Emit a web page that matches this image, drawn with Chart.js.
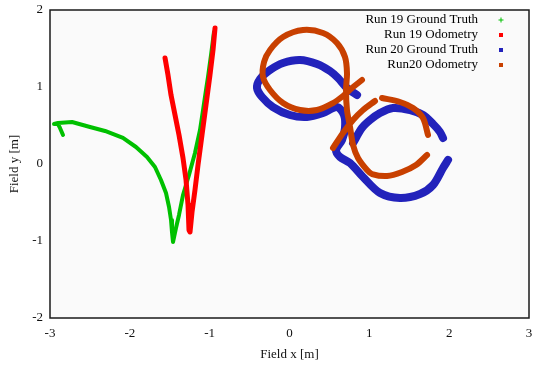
<!DOCTYPE html>
<html>
<head>
<meta charset="utf-8">
<script src="https://cdn.jsdelivr.net/npm/chart.js@4.4.1/dist/chart.umd.min.js"></script>
<style>
  html, body { margin: 0; padding: 0; background: #fff; }
  canvas { display: block; }
</style>
</head>
<body>
<canvas id="fieldPlot" width="538" height="369"></canvas>
<script>
// Paths (metres). null = gap in the trace.
const run19TruthX = [-2.837, -2.875, -2.900, -2.950, -2.900, -2.724, -2.499, -2.311, -2.086, -1.923, -1.785, -1.685, -1.610, -1.547, -1.509, -1.484, -1.472, -1.459, -1.422, -1.384, -1.334, -1.259, -1.184, -1.121, -1.083, -1.046, -1.021, -0.983, -0.946];
const run19TruthY = [0.377, 0.468, 0.519, 0.519, 0.532, 0.545, 0.481, 0.429, 0.338, 0.221, 0.091, -0.039, -0.208, -0.377, -0.558, -0.727, -0.883, -1.013, -0.831, -0.662, -0.403, -0.143, 0.143, 0.442, 0.701, 0.961, 1.130, 1.416, 1.714];

const run19OdomX = [-1.559, -1.522, -1.484, -1.434, -1.384, -1.334, -1.296, -1.271, -1.259, -1.246, -1.221, -1.184, -1.146, -1.096, -1.046, -0.996, -0.958, -0.933];
const run19OdomY = [1.377, 1.156, 0.896, 0.636, 0.377, 0.078, -0.208, -0.532, -0.857, -0.883, -0.623, -0.338, -0.013, 0.377, 0.766, 1.156, 1.481, 1.766];

const run20TruthX = [0.846, 0.720, 0.608, 0.507, 0.345, 0.132, -0.081, -0.244, -0.369, -0.407, -0.344, -0.207, 0.006, 0.219, 0.420, 0.595, 0.683, 0.695, 0.658, 0.583, 0.633, 0.758, 0.921, 1.134, 1.384, 1.635, 1.798, 1.923, 1.986,
  null,
  1.923, 1.885, 1.798, 1.672, 1.510, 1.297, 1.134, 1.009, 0.908, 0.796];
const run20TruthY = [0.896, 0.987, 1.117, 1.208, 1.299, 1.351, 1.312, 1.221, 1.104, 0.987, 0.870, 0.740, 0.636, 0.610, 0.662, 0.740, 0.636, 0.468, 0.312, 0.182, 0.091, 0.013, -0.169, -0.377, -0.442, -0.390, -0.273, -0.052, 0.052,
  null,
  0.338, 0.416, 0.519, 0.636, 0.701, 0.727, 0.662, 0.571, 0.468, 0.273];

const run20OdomX = [0.908, 0.783, 0.670, 0.545, 0.345, 0.132, -0.081, -0.244, -0.332, -0.319, -0.244, -0.081, 0.169, 0.420, 0.595, 0.695, 0.720, 0.708, 0.720, 0.758, 0.796, 0.858, 0.971, 1.034, 1.222, 1.409, 1.585, 1.723,
  null,
  0.545, 0.670, 0.796, 0.921, 1.071,
  null,
  1.159, 1.384, 1.547, 1.672, 1.735];
const run20OdomY = [1.091, 0.987, 0.883, 0.792, 0.701, 0.701, 0.792, 0.961, 1.130, 1.325, 1.481, 1.649, 1.740, 1.701, 1.571, 1.390, 1.182, 0.961, 0.701, 0.481, 0.247, 0.078, -0.078, -0.130, -0.156, -0.104, -0.013, 0.117,
  null,
  0.208, 0.403, 0.571, 0.701, 0.818,
  null,
  0.857, 0.805, 0.727, 0.597, 0.377];

const seriesNames = ['Run 19 Ground Truth', 'Run 19 Odometry', 'Run 20 Ground Truth', 'Run20 Odometry'];
const seriesColors = ['#00c000', '#ff0000', '#2222bb', '#c84000'];
const xTicks = [-3, -2, -1, 0, 1, 2, 3];
const yTicks = [-2, -1, 0, 1, 2];

const serif = 'Liberation Serif';

function toPoints(xs, ys) {
  return xs.map((x, i) => ({ x: x, y: ys[i] }));
}

function trace(i, xs, ys, width, order, tension) {
  return {
    label: seriesNames[i],
    data: toPoints(xs, ys),
    showLine: true,
    spanGaps: false,
    tension: tension,
    borderColor: seriesColors[i],
    backgroundColor: seriesColors[i],
    borderWidth: width,
    borderJoinStyle: 'round',
    borderCapStyle: 'round',
    pointRadius: 0,
    order: order,
  };
}

// light plot background + frame
const framePlugin = {
  id: 'frame',
  beforeDraw(chart) {
    const { ctx, chartArea: a } = chart;
    ctx.save();
    ctx.fillStyle = '#fafafa';
    ctx.fillRect(a.left, a.top, a.right - a.left, a.bottom - a.top);
    ctx.restore();
  },
  afterDraw(chart) {
    const { ctx, chartArea: a } = chart;
    ctx.save();
    ctx.strokeStyle = '#1a1a1a';
    ctx.lineWidth = 1.5;
    ctx.strokeRect(a.left, a.top, a.right - a.left, a.bottom - a.top);
    ctx.restore();
  }
};

// gnuplot style key: text right aligned, marker on the right
const keyPlugin = {
  id: 'key',
  afterDraw(chart) {
    const ctx = chart.ctx;
    ctx.save();
    ctx.font = '13px "' + serif + '"';
    ctx.textAlign = 'right';
    ctx.textBaseline = 'middle';
    seriesNames.forEach((name, i) => {
      const y = 20 + i * 15;
      ctx.fillStyle = '#000';
      ctx.fillText(name, 478, y);
      ctx.fillStyle = seriesColors[i];
      ctx.strokeStyle = seriesColors[i];
      if (i === 0) {
        ctx.lineWidth = 1;
        ctx.beginPath();
        ctx.moveTo(498.5, y); ctx.lineTo(503.5, y);
        ctx.moveTo(501, y - 2.5); ctx.lineTo(501, y + 2.5);
        ctx.stroke();
      } else {
        ctx.fillRect(499, y - 2, 4, 4);
      }
    });
    ctx.restore();
  }
};

const ctx = document.getElementById('fieldPlot').getContext('2d');

new Chart(ctx, {
  type: 'scatter',
  data: {
    datasets: [
      trace(0, run19TruthX, run19TruthY, 4, 4, 0),
      trace(1, run19OdomX, run19OdomY, 5, 3, 0),
      trace(2, run20TruthX, run20TruthY, 8, 2, 0.3),
      trace(3, run20OdomX, run20OdomY, 6, 1, 0.3),
    ],
  },
  options: {
    responsive: false,
    animation: false,
    layout: { padding: { top: 10, right: 9, left: 0, bottom: 0 } },
    plugins: {
      legend: { display: false },
      tooltip: { enabled: false },
    },
    scales: {
      x: {
        type: 'linear',
        min: xTicks[0],
        max: xTicks[xTicks.length - 1],
        afterBuildTicks: (s) => { s.ticks = xTicks.map(v => ({ value: v })); },
        ticks: { padding: 8, color: '#111', font: { family: serif, size: 13 } },
        grid: { display: false, drawTicks: false },
        border: { display: false },
        title: {
          display: true,
          text: 'Field x [m]',
          color: '#111',
          padding: 7,
          font: { family: serif, size: 13 },
        },
        afterFit: (s) => { s.height = 51; s.paddingLeft = 0; s.paddingRight = 0; },
      },
      y: {
        type: 'linear',
        min: yTicks[0],
        max: yTicks[yTicks.length - 1],
        afterBuildTicks: (s) => { s.ticks = yTicks.map(v => ({ value: v })); },
        ticks: { padding: 7, color: '#111', font: { family: serif, size: 13 } },
        grid: { display: false, drawTicks: false },
        border: { display: false },
        title: {
          display: true,
          text: 'Field y [m]',
          color: '#111',
          padding: 7,
          font: { family: serif, size: 13 },
        },
        afterFit: (s) => { s.width = 50; s.paddingTop = 0; s.paddingBottom = 0; },
      },
    },
  },
  plugins: [framePlugin, keyPlugin],
});
</script>
</body>
</html>
